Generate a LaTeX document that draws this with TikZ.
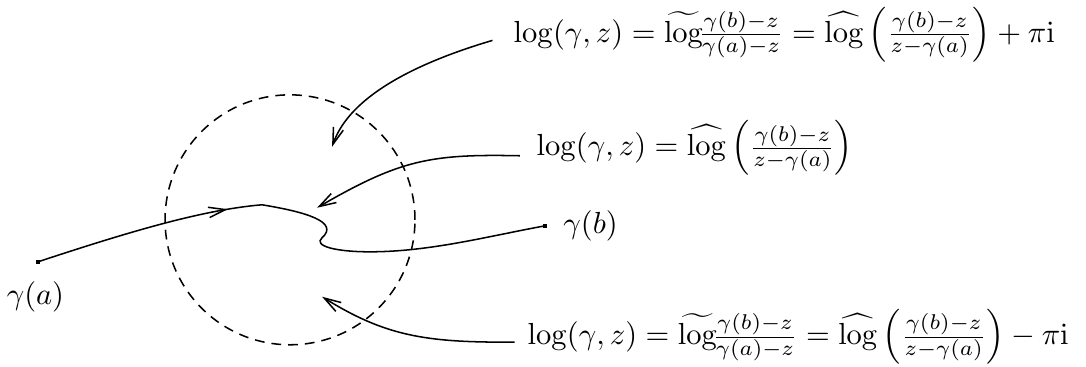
\documentclass[tikz,border=0pt]{standalone}
\usepackage{amsmath}
\usepackage{tikz}
\usetikzlibrary{arrows.meta,calc,positioning,decorations.markings}
\definecolor{ink}{HTML}{000000}

\begin{document}
\begin{tikzpicture}[scale=1.036,
    thin line/.style={ink,line width=0.5pt},
    barb/.style={thin line,-{Straight Barb[length=5.5pt,width=3.4pt]}},
    endpt/.style={fill=ink,inner sep=0pt,minimum size=1.4pt},
    lbl/.style={inner sep=0pt,anchor=base west}]
  \useasboundingbox (0,0) rectangle (12.08,4.08);
  \draw[thin line,dash pattern=on 3.2pt off 2.3pt] (3.226,1.635) circle[radius=1.39];
  \node[endpt] (ga) at (0.423,1.168) {};
  \node[endpt] (gb) at (6.063,1.568) {};
  \node[below=5.5pt of ga,xshift=-0.03cm,inner sep=0pt] (la) {$\gamma(a)$};
  \node[right=4.9pt of gb,inner sep=0pt] (lb) {$\gamma(b)$};
  \draw[thin line,postaction={decorate},
        decoration={markings,mark=at position 0.36 with {\arrow{Straight Barb[length=5.5pt,width=3.4pt]}}}]
    (ga.center) .. controls (1.335,1.468) and (2.225,1.746) .. (2.915,1.802)
    .. controls (3.393,1.724) and (3.782,1.613) .. (3.582,1.435)
    .. controls (3.482,1.346) and (3.727,1.279) .. (4.116,1.279)
    .. controls (4.783,1.279) and (5.451,1.457) .. (gb.center);
  \node[lbl] (l1) at (5.707,3.61) {$\log(\gamma,z)=\widetilde{\log}\!\frac{\gamma(b)-z}{\gamma(a)-z}=\widehat{\log}\left(\frac{\gamma(b)-z}{z-\gamma(a)}\right)+\pi\mathrm{i}$};
  \node[lbl] (l2) at (5.962,2.347) {$\log(\gamma,z)=\widehat{\log}\left(\frac{\gamma(b)-z}{z-\gamma(a)}\right)$};
  \node[lbl] (l3) at (5.862,0.245) {$\log(\gamma,z)=\widetilde{\log}\!\frac{\gamma(b)-z}{\gamma(a)-z}=\widehat{\log}\left(\frac{\gamma(b)-z}{z-\gamma(a)}\right)-\pi\mathrm{i}$};
  \coordinate (t1) at (3.693,2.447);
  \coordinate (t2) at (3.526,1.769);
  \coordinate (t3) at (3.582,0.779);
  \draw[barb] ([xshift=-0.23cm,yshift=0.02cm]l1.base west) .. controls (4.672,3.393) and (3.893,3.026) .. (t1);
  \draw[barb] ([xshift=-0.18cm]l2.base west) .. controls (4.783,2.369) and (4.450,2.303) .. (t2);
  \draw[barb] ([xshift=-0.14cm,yshift=0.03cm]l3.base west) .. controls (4.728,0.267) and (4.283,0.345) .. (t3);
\end{tikzpicture}
\end{document}
